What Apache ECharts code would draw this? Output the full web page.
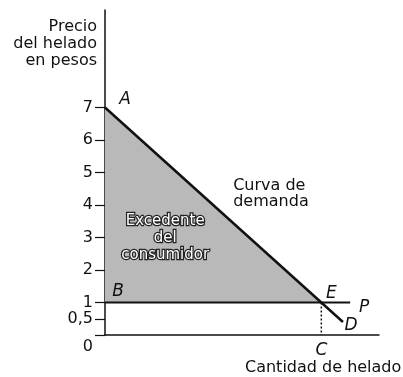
<!DOCTYPE html>
<html>
<head>
<meta charset="utf-8">
<script src="https://cdn.jsdelivr.net/npm/echarts@6/dist/echarts.min.js"></script>
<style>
  html, body { margin: 0; padding: 0; background: #fff; }
  #chart { width: 403px; height: 377px; }
</style>
</head>
<body>
<div id="chart"></div>
<script>
// valores
var priceTicks = [0, 0.5, 1, 2, 3, 4, 5, 6, 7];
var priceTickLabels = ['0', '0,5', '1', '2', '3', '4', '5', '6', '7'];
var demandQ = [0, 6.6];
var demandP = [7, 0.4];
var surplusQ = [0, 6];
var surplusP = [7, 1];
var marketPrice = 1;
var priceLineQ = [0, 6.8];
var qE = 6;
var pointNames = ['A', 'B', 'E', 'P', 'D', 'C'];
var pointQ = [0, 0, 6, 6.8, 6.6, 6];
var pointP = [7, 1, 1, 1, 0.4, 0];
var pointOffsets = [[20, -8], [13, -11], [10, -9], [14, 5], [8, 4], [0, 16]];

var FONT = '"DejaVu Sans", sans-serif';

var chart = echarts.init(document.getElementById('chart'));

var surplusData = surplusQ.map(function (q, i) { return [q, surplusP[i]]; });
var demandData = demandQ.map(function (q, i) { return [q, demandP[i]]; });
var priceData = priceLineQ.map(function (q) { return [q, marketPrice]; });
var letters = pointNames.map(function (n, i) {
    return {
        name: n,
        value: [pointQ[i], pointP[i]],
        label: { offset: pointOffsets[i] }
    };
});

var option = {
    backgroundColor: '#fff',
    animation: false,
    grid: { left: 105, right: 24, top: 10, bottom: 42 },
    xAxis: {
        type: 'value',
        min: 0,
        max: 7.6,
        axisLine: { lineStyle: { color: '#111', width: 1.5 } },
        axisTick: { show: false },
        axisLabel: { show: false },
        splitLine: { show: false }
    },
    yAxis: {
        type: 'value',
        min: 0,
        max: 10,
        axisLine: { show: true, lineStyle: { color: '#111', width: 1.5 } },
        axisTick: {
            show: true,
            customValues: priceTicks,
            length: 10,
            lineStyle: { color: '#111', width: 1.2 }
        },
        axisLabel: {
            customValues: priceTicks,
            margin: 12,
            color: '#111',
            fontFamily: FONT,
            fontSize: 16,
            formatter: function (v) {
                var i = priceTicks.indexOf(v);
                if (i < 0) return '';
                if (v === 0) return '{z|' + priceTickLabels[i] + '}';
                return priceTickLabels[i];
            },
            rich: {
                z: { padding: [24, 0, 0, 0], fontFamily: FONT, fontSize: 16, color: '#111' }
            }
        },
        splitLine: { show: false }
    },
    series: [
        {
            // excedente del consumidor
            type: 'line',
            data: surplusData,
            symbol: 'none',
            lineStyle: { width: 0 },
            areaStyle: { color: '#b9b9b9', opacity: 1, origin: marketPrice },
            z: 1
        },
        {
            type: 'line',
            data: priceData,
            symbol: 'none',
            lineStyle: { color: '#111', width: 1.8 },
            z: 3
        },
        {
            type: 'line',
            data: [[qE, marketPrice], [qE, 0]],
            symbol: 'none',
            lineStyle: { color: '#111', width: 1.5, type: [2, 2] },
            z: 3
        },
        {
            // curva de demanda
            type: 'line',
            data: demandData,
            symbol: 'none',
            lineStyle: { color: '#111', width: 2.5 },
            z: 4
        },
        {
            type: 'scatter',
            data: letters,
            symbolSize: 0,
            itemStyle: { opacity: 1 },
            label: {
                show: true,
                position: 'inside',
                formatter: '{b}',
                color: '#111',
                fontFamily: FONT,
                fontStyle: 'italic',
                fontSize: 17
            },
            z: 5
        },
        {
            type: 'scatter',
            symbolSize: 0,
            itemStyle: { opacity: 1 },
            data: [
                { name: 'Curva de\ndemanda', value: [4.61, 4.34] }
            ],
            label: {
                show: true,
                position: 'inside',
                formatter: '{b}',
                color: '#111',
                fontFamily: FONT,
                fontSize: 16,
                lineHeight: 16,
                align: 'left',
                offset: [-38, 0]
            },
            z: 5
        },
        {
            type: 'scatter',
            symbolSize: 0,
            itemStyle: { opacity: 1 },
            data: [
                { name: 'Excedente\ndel\nconsumidor', value: [1.67, 2.98] }
            ],
            label: {
                show: true,
                position: 'inside',
                formatter: '{b}',
                color: '#fff',
                textBorderColor: '#222',
                textBorderWidth: 2.5,
                fontFamily: FONT,
                fontSize: 15,
                lineHeight: 17
            },
            z: 5
        }
    ],
    graphic: [
        {
            type: 'text',
            x: 97,
            y: 18,
            style: {
                text: 'Precio\ndel helado\nen pesos',
                align: 'right',
                verticalAlign: 'top',
                font: '16px ' + FONT,
                lineHeight: 17,
                fill: '#111'
            }
        },
        {
            type: 'text',
            x: 245,
            y: 368,
            style: {
                text: 'Cantidad de helado',
                align: 'left',
                verticalAlign: 'middle',
                font: '16px ' + FONT,
                fill: '#111'
            }
        }
    ]
};

chart.setOption(option);
</script>
</body>
</html>
